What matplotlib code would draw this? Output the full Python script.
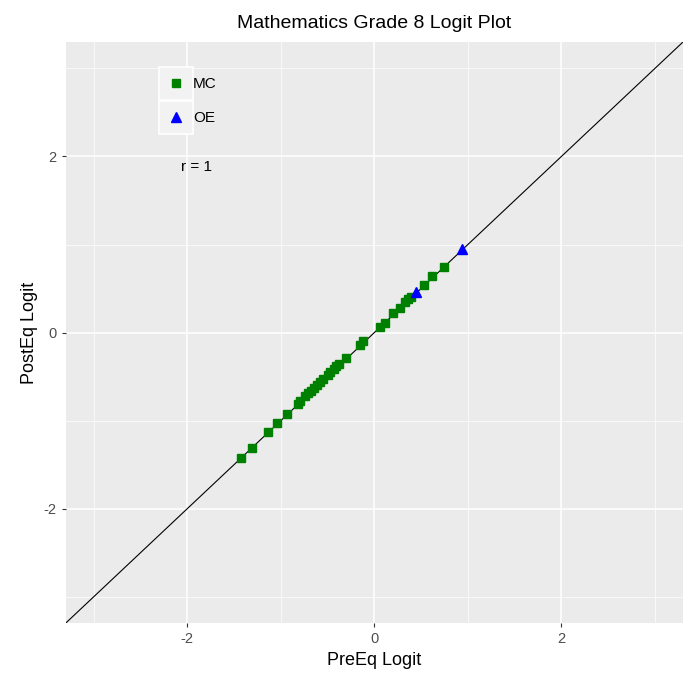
import numpy as np
import matplotlib.pyplot as plt
from matplotlib.patches import Rectangle
from matplotlib.ticker import MultipleLocator

# --- data ---
mc_pre = [-1.43, -1.31, -1.14, -1.04, -0.93, -0.82, -0.79, -0.74, -0.71, -0.68,
          -0.65, -0.61, -0.58, -0.55, -0.50, -0.47, -0.43, -0.41, -0.38, -0.30,
          -0.15, -0.12, 0.06, 0.11, 0.20, 0.27, 0.33, 0.36, 0.39, 0.53, 0.62, 0.74]
mc_post = [-1.43, -1.31, -1.13, -1.03, -0.93, -0.81, -0.78, -0.72, -0.69, -0.66,
           -0.63, -0.59, -0.56, -0.53, -0.48, -0.45, -0.41, -0.38, -0.36, -0.29,
           -0.14, -0.10, 0.06, 0.11, 0.22, 0.28, 0.35, 0.38, 0.40, 0.54, 0.64, 0.74]
oe_pre = [0.45, 0.94]
oe_post = [0.46, 0.95]
r_value = 1

plt.rcParams['font.family'] = ['Liberation Sans', 'DejaVu Sans']
plt.rcParams['axes.unicode_minus'] = False

fig = plt.figure(figsize=(6.85, 6.78), dpi=100)
ax = fig.add_axes([0.096, 0.081, 0.901, 0.857])
ax.set_facecolor('#EBEBEB')
for s in ax.spines.values():
    s.set_visible(False)

lim = (-3.3, 3.3)
ax.set_xlim(lim)
ax.set_ylim(lim)
ax.xaxis.set_major_locator(MultipleLocator(2))
ax.yaxis.set_major_locator(MultipleLocator(2))
ax.xaxis.set_minor_locator(MultipleLocator(1))
ax.yaxis.set_minor_locator(MultipleLocator(1))
ax.grid(which='major', color='white', linewidth=1.1)
ax.grid(which='minor', color='white', linewidth=0.5)
ax.set_axisbelow(True)
ax.tick_params(which='major', length=3, color='#333333', labelsize=10.5, labelcolor='#4D4D4D')
ax.tick_params(which='minor', length=0)

ax.plot(lim, lim, color='black', linewidth=0.8, zorder=2)
ax.plot(mc_pre, mc_post, 's', color='#008000', markersize=5.5, linestyle='none',
        label='MC', zorder=3)
ax.plot(oe_pre, oe_post, '^', color='#0000FF', markersize=6.5, linestyle='none',
        label='OE', zorder=3)

ax.text(-1.9, 1.88, f'r = {r_value}', fontsize=11, ha='center', va='center')

# legend key boxes (ggplot style, narrow, labels spill outside)
for y0 in (0.900, 0.842):
    ax.add_patch(Rectangle((0.151, y0), 0.055, 0.057, transform=ax.transAxes,
                           facecolor='#F2F2F2', edgecolor='white', linewidth=1.2,
                           zorder=4))

leg = ax.legend(loc='upper left', bbox_to_anchor=(0.139, 0.969), frameon=False,
                fontsize=11, handlelength=1.0, handletextpad=0.6,
                labelspacing=1.35, borderpad=0.6)
leg.set_zorder(5)

ax.set_xlabel('PreEq Logit', fontsize=13, labelpad=4)
ax.set_ylabel('PostEq Logit', fontsize=13, labelpad=4)
ax.set_title('Mathematics Grade 8 Logit Plot', fontsize=14, pad=10)

fig.savefig('out.png', dpi=100, facecolor='white')
